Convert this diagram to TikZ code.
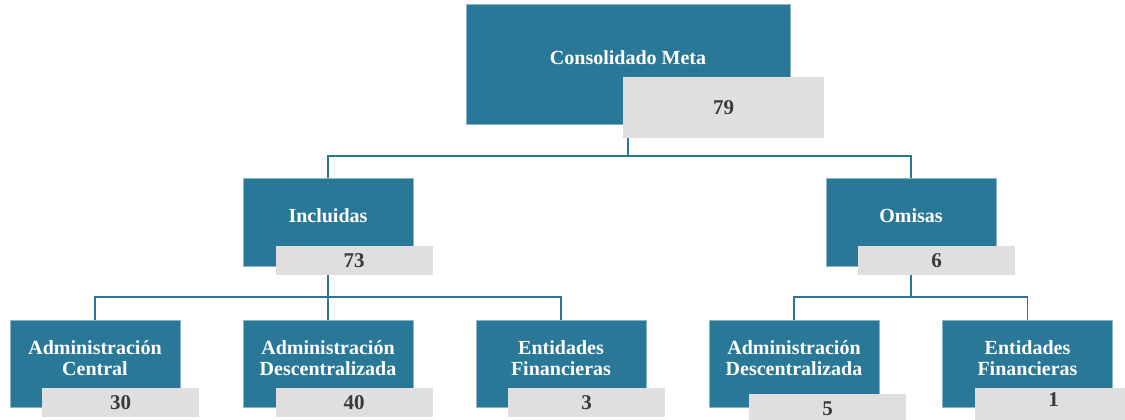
\documentclass[tikz,border=0pt]{standalone}
\usepackage{fontspec}
\setmainfont{Liberation Serif}
\usetikzlibrary{positioning}
\definecolor{unitColor}{HTML}{2A7898}
\definecolor{valColor}{HTML}{E0DEDF}
\definecolor{numColor}{HTML}{3A3A3A}
\tikzset{
	unit/.style={fill=unitColor, draw=unitColor!55!white, line width=.4pt, text=white,
		font=\bfseries\fontsize{10}{10.5}\selectfont, align=center, inner sep=0pt,
		minimum width=85pt, minimum height=43.5pt, text height=7pt, text depth=7pt},
	twolines/.style={text height=17.5pt, text depth=6pt},
	val/.style={fill=valColor, text=numColor, font=\bfseries\fontsize{10.5}{12}\selectfont,
		inner sep=0pt, minimum width=78.5pt, minimum height=14.5pt},
	link/.style={draw=unitColor, line width=.75pt}
}
\begin{document}
\begin{tikzpicture}[x=0.5pt,y=-0.5pt]
				\useasboundingbox (0,0) rectangle (1125,419);
				% top level
				\node[unit, minimum width=162pt, minimum height=60pt] (meta) at (628,64) {Consolidado Meta};
				\node[val, minimum width=100.5pt, minimum height=30.5pt] (metav) at ([shift={(95.5,43.5)}]meta.center) {79};
				% second level
				\node[unit, minimum height=44pt] (incl) at (328,222) {Incluidas};
				\node[val] (inclv) at ([shift={(26,38.5)}]incl.center) {73};
				\node[unit, minimum height=44pt] (omis) at (911,222) {Omisas};
				\node[val] (omisv) at ([shift={(25.5,38.5)}]omis.center) {6};
				% third level
				\node[unit, twolines] (ac) at (95,363.5) {Administración\\Central};
				\node[val] (acv) at ([shift={(25.5,39)}]ac.center) {30};
				\node[unit, twolines] (ad1) at (328,363.5) {Administración\\Descentralizada};
				\node[val] (ad1v) at ([shift={(26,39)}]ad1.center) {40};
				\node[unit, twolines] (ef1) at (561,363.5) {Entidades\\Financieras};
				\node[val] (ef1v) at ([shift={(25.5,39)}]ef1.center) {3};
				\node[unit, twolines] (ad2) at (794,363.5) {Administración\\Descentralizada};
				\node[val] (ad2v) at ([shift={(33.5,45)}]ad2.center) {5};
				\node[unit, twolines] (ef2) at (1027.5,363.5) {Entidades\\Financieras};
				\node[val, minimum height=16pt, text depth=4pt] (ef2v) at ([shift={(26,40.5)}]ef2.center) {1};
				% buses
				\coordinate (bus0) at (628,156);
				\coordinate (bus1) at (328,297);
				\coordinate (bus2) at (911,297);
				\draw[link] (meta |- metav.south) -- (bus0);
				\draw[link] (incl.north) |- (bus0) -| (omis.north);
				\draw[link] (incl |- inclv.south) -- (bus1);
				\draw[link] (ac.north) |- (bus1) -| (ef1.north);
				\draw[link] (bus1) -- (ad1.north);
				\draw[link] (omis |- omisv.south) -- (bus2);
				\draw[link] (ad2.north) |- (bus2) -| (ef2.north);
\end{tikzpicture}
\end{document}
